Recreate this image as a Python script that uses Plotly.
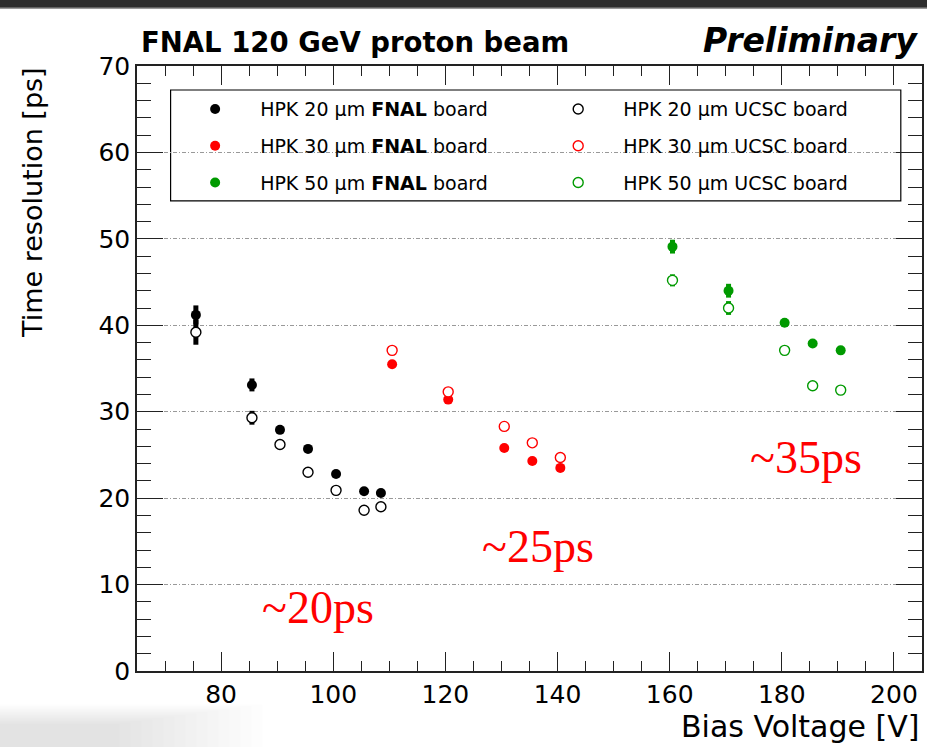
import plotly.graph_objects as go

# ---- data ----
v20 = [75.5, 85.5, 90.5, 95.5, 100.5, 105.5, 108.5]
fnal20 = [41.2, 33.1, 27.9, 25.7, 22.8, 20.8, 20.6]
fnal20_err = [1.1, 0.75, 0.35, 0.35, 0.3, 0.3, 0.3]
ucsc20 = [39.2, 29.3, 26.2, 23.0, 20.9, 18.6, 19.0]
ucsc20_err = [1.45, 0.8, 0.4, 0.3, 0.3, 0.3, 0.35]

v30 = [110.5, 120.5, 130.5, 135.5, 140.5]
fnal30 = [35.5, 31.4, 25.8, 24.3, 23.5]
fnal30_err = [0.3, 0.3, 0.3, 0.3, 0.3]
ucsc30 = [37.1, 32.3, 28.3, 26.4, 24.7]
ucsc30_err = [0.3, 0.3, 0.3, 0.3, 0.3]

v50 = [160.5, 170.5, 180.5, 185.5, 190.5]
fnal50 = [49.1, 44.0, 40.3, 37.9, 37.1]
fnal50_err = [0.8, 0.8, 0.35, 0.3, 0.3]
ucsc50 = [45.2, 42.0, 37.1, 33.0, 32.5]
ucsc50_err = [0.7, 0.8, 0.4, 0.3, 0.3]

BLACK, RED, GREEN = "#000000", "#ff0000", "#009a00"
FONT = "DejaVu Sans"

fig = go.Figure()

series = [
    ("HPK 20 μm <b>FNAL</b> board", v20, fnal20, fnal20_err, BLACK, True, "legend"),
    ("HPK 30 μm <b>FNAL</b> board", v30, fnal30, fnal30_err, RED, True, "legend"),
    ("HPK 50 μm <b>FNAL</b> board", v50, fnal50, fnal50_err, GREEN, True, "legend"),
    ("HPK 20 μm UCSC board", v20, ucsc20, ucsc20_err, BLACK, False, "legend2"),
    ("HPK 30 μm UCSC board", v30, ucsc30, ucsc30_err, RED, False, "legend2"),
    ("HPK 50 μm UCSC board", v50, ucsc50, ucsc50_err, GREEN, False, "legend2"),
]

for i, (name, x, y, e, col, filled, lg) in enumerate(series):
    marker = dict(size=10, symbol="circle", color=col if filled else "white",
                  line=dict(color=col, width=0 if filled else 1.4))
    fig.add_trace(go.Scatter(
        x=x, y=y, mode="markers", name=name, legend=lg, legendgroup=f"g{i}",
        marker=marker,
        error_y=dict(type="data", array=e, visible=True, color=col, thickness=5, width=0),
    ))

# annotations (text)
SERIF = dict(family="Liberation Serif", size=46, color="#ff0000")
fig.add_annotation(x=97.3, y=7.4, text="~20ps", showarrow=False, font=SERIF)
fig.add_annotation(x=136.5, y=14.4, text="~25ps", showarrow=False, font=SERIF)
fig.add_annotation(x=184.3, y=24.7, text="~35ps", showarrow=False, font=SERIF)

fig.add_annotation(xref="paper", yref="paper", x=0.003, y=1.04, xanchor="left", yanchor="middle",
                   text="FNAL 120 GeV proton beam", showarrow=False,
                   font=dict(family=FONT, size=27.5, color="black", weight="bold"))
fig.add_annotation(xref="paper", yref="paper", x=0.998, y=1.042, xanchor="right", yanchor="middle",
                   text="Preliminary", showarrow=False,
                   font=dict(family=FONT, size=33, color="black", weight="bold", style="italic"))
fig.add_annotation(xref="paper", yref="paper", x=-0.134, y=0.775, xanchor="center", yanchor="middle",
                   text="Time resolution [ps]", showarrow=False, textangle=-90,
                   font=dict(family=FONT, size=27, color="black"))
fig.add_annotation(xref="paper", yref="paper", x=0.999, y=-0.091, xanchor="right", yanchor="middle",
                   text="Bias Voltage [V]", showarrow=False,
                   font=dict(family=FONT, size=30, color="black"))

shapes = [
    # legend box
    dict(type="rect", xref="paper", yref="paper", x0=0.0428, x1=0.973, y0=0.777, y1=0.9603,
         line=dict(color="black", width=1.2), fillcolor="rgba(0,0,0,0)", layer="below"),
    # dark band at top of the screenshot
    dict(type="rect", xref="paper", yref="paper", x0=-0.2, x1=1.05, y0=1.0958, y1=1.12,
         line=dict(width=0), fillcolor="#2e2e2e", layer="below"),
    dict(type="line", xref="paper", yref="paper", x0=-0.2, x1=1.05, y0=1.0955, y1=1.0955,
         line=dict(color="#9a9a9a", width=1.5), layer="below"),
]
# faint shadow at bottom-left corner
for k in range(14):
    shapes.append(dict(type="rect", xref="paper", yref="paper", x0=-0.2, x1=0.16 - 0.014 * k,
                       y0=-0.2, y1=-0.055 - 0.0025 * k, line=dict(width=0),
                       fillcolor="rgba(0,0,0,0.007)", layer="below"))
fig.update_layout(shapes=shapes)

axis_common = dict(showline=True, linecolor="#222", linewidth=1.5, mirror="allticks",
                   ticks="inside", tickcolor="#222", tickwidth=1.2, zeroline=False,
                   tickfont=dict(family=FONT, size=25, color="black"))

fig.update_xaxes(range=[65, 205], dtick=20, tick0=0, ticklen=19, showgrid=False,
                 minor=dict(dtick=5, ticklen=10, tickcolor="#222", tickwidth=1.2, ticks="inside"),
                 **axis_common)
fig.update_yaxes(range=[0, 70], dtick=10, tick0=0, ticklen=26, showgrid=True,
                 gridcolor="#999", griddash="4px,2px,1px,2px", gridwidth=1,
                 minor=dict(dtick=2, ticklen=14, tickcolor="#222", tickwidth=1.2, ticks="inside"),
                 **axis_common)

leg = dict(bgcolor="rgba(0,0,0,0)", borderwidth=0, yanchor="top", xanchor="left",
           font=dict(family=FONT, size=19, color="black"), tracegroupgap=9, itemwidth=80)
fig.update_layout(
    width=927, height=747,
    margin=dict(l=137, r=3, t=66, b=76),
    paper_bgcolor="white", plot_bgcolor="white",
    showlegend=True,
    legend=dict(x=0.0422, y=0.96, **leg),
    legend2=dict(x=0.5047, y=0.96, **leg),
)

fig.write_html("out.html")
